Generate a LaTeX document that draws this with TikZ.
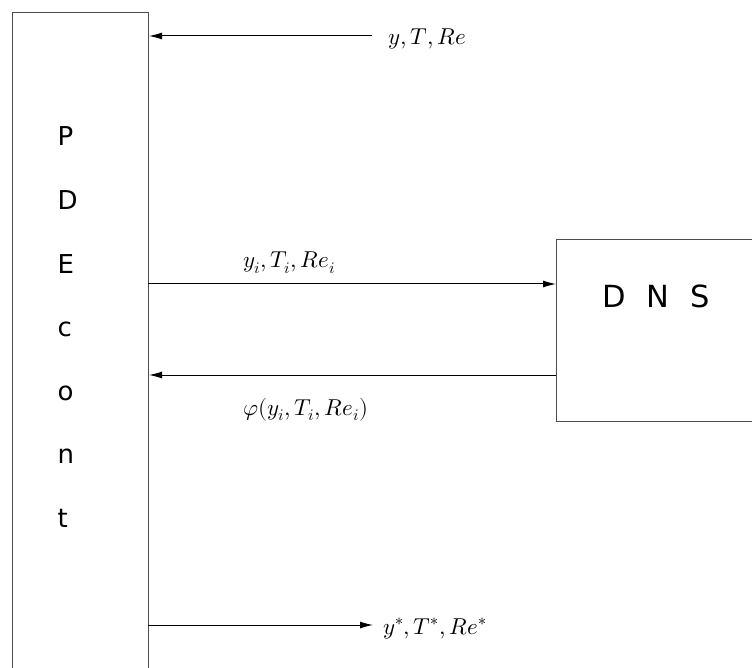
\documentclass[tikz,border=0pt]{standalone}
\usepackage{fontspec}
\usepackage{unicode-math}
\newfontfamily\boxfont{DejaVu Sans}
\usetikzlibrary{arrows.meta}
\begin{document}
\begin{tikzpicture}[x=1pt,y=-1pt,
  frame/.style={draw=black!70,line width=1pt},
  flow/.style={draw=black,line width=1pt,-{Latex[length=13pt,width=7pt]}},
  mathlbl/.style={anchor=base west,inner sep=0pt,font=\fontsize{23}{28}\selectfont},
  letter/.style={anchor=base west,inner sep=0pt,font=\boxfont\fontsize{26}{30}\selectfont}]
\useasboundingbox (0,0) rectangle (752,668);

% PDEcont block (open at the bottom edge)
\coordinate (pbl) at (12,670);
\coordinate (ptl) at (12,13);
\coordinate (ptr) at (148,13);
\coordinate (pbr) at (148,670);
\draw[frame] (pbl) -- (ptl) -- (ptr) -- (pbr);

% DNS block (open at the right edge)
\coordinate (dtr) at (753,240);
\coordinate (dtl) at (556,240);
\coordinate (dbl) at (556,421);
\coordinate (dbr) at (753,421);
\draw[frame] (dtr) -- (dtl) -- (dbl) -- (dbr);

% vertical title of the left block
\foreach \ch/\yy [count=\k] in {P/146,D/209.5,E/273,c/336.5,o/400,n/463.5,t/527}
  \node[letter] (t\k) at (57.5,\yy) {\ch};

% title of the right block
\node[anchor=base west,inner sep=0pt,font=\boxfont\fontsize{30.5}{36}\selectfont] (dns) at (602,308)
  {D\hspace{21pt}N\hspace{21pt}S};

% connector end points
\coordinate (inS) at (372,36);
\coordinate (inE) at (149,36);
\coordinate (fwS) at (148,284);
\coordinate (fwE) at (556,284);
\coordinate (bkS) at (556,375);
\coordinate (bkE) at (149,375);
\coordinate (outS) at (148,625);
\coordinate (outE) at (373,625);

\draw[flow] (inS) -- (inE);
\draw[flow] (fwS) -- (fwE);
\draw[flow] (bkS) -- (bkE);
\draw[flow] (outS) -- (outE);

% labels
\node[mathlbl] (lin) at (388,45) {$y, T, Re$};
\node[mathlbl] (lfw) at (243,268) {$y_i, T_i, Re_i$};
\node[mathlbl] (lbk) at (243,415) {$\varphi(y_i, T_i, Re_i)$};
\node[mathlbl] (lout) at (383,634) {$y^*, T^*, Re^*$};
\end{tikzpicture}
\end{document}
